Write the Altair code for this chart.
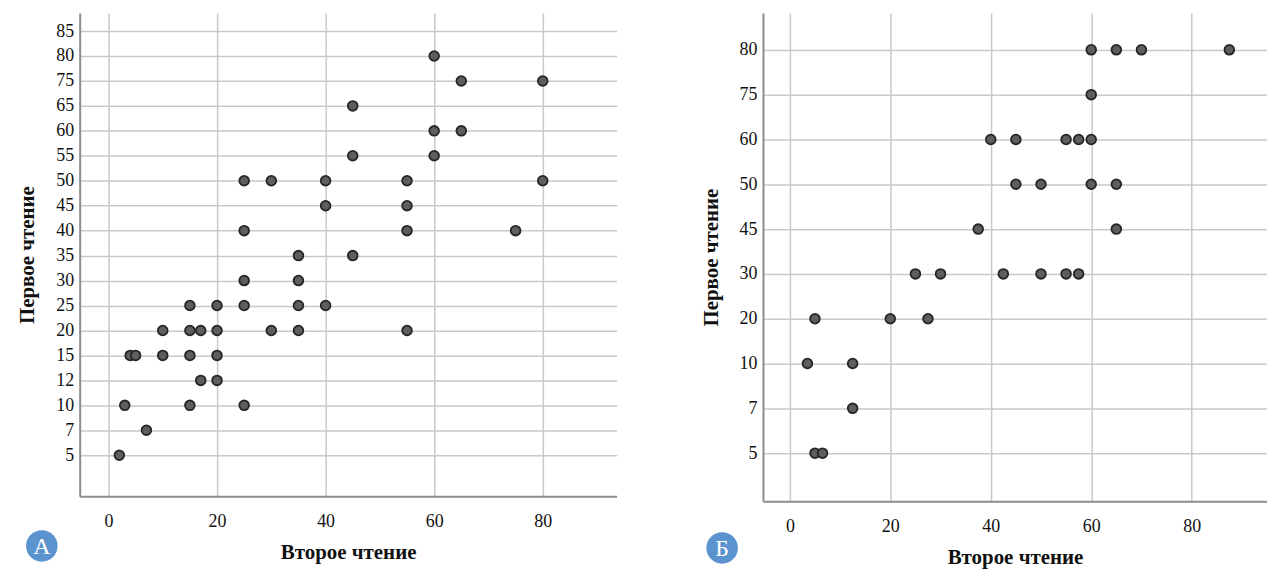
import altair as alt
import pandas as pd

# Panel A
a_levels = [5, 7, 10, 12, 15, 20, 25, 30, 35, 40, 45, 50, 55, 60, 65, 75, 80, 85]
a_first = [80, 75, 75, 65, 60, 60, 55, 55, 50, 50, 50, 50, 50, 45, 45, 40, 40, 40,
           35, 35, 30, 30, 25, 25, 25, 25, 25, 20, 20, 20, 20, 20, 20, 20,
           15, 15, 15, 15, 15, 12, 12, 10, 10, 10, 7, 5]
a_second = [60, 65, 80, 45, 60, 65, 45, 60, 25, 30, 40, 55, 80, 40, 55, 25, 55, 75,
            35, 45, 25, 35, 15, 20, 25, 35, 40, 10, 15, 17, 20, 30, 35, 55,
            4, 5, 10, 15, 20, 17, 20, 3, 15, 25, 7, 2]

# Panel B
b_levels = [5, 7, 10, 20, 30, 45, 50, 60, 75, 80]
b_first = [80, 80, 80, 80, 75, 60, 60, 60, 60, 60, 50, 50, 50, 50, 45, 45,
           30, 30, 30, 30, 30, 30, 20, 20, 20, 10, 10, 7, 5, 5]
b_second = [60, 65, 70, 87.5, 60, 40, 45, 55, 57.5, 60, 45, 50, 60, 65, 37.5, 65,
            25, 30, 42.5, 50, 55, 57.5, 5, 20, 27.5, 3.5, 12.5, 12.5, 5, 6.5]

x_ticks = [0, 20, 40, 60, 80]
x_title = "Второе чтение"
y_title = "Первое чтение"
badges = ["А", "Б"]

FONT = "Liberation Serif"


def panel(first, second, levels, xdom, ydom, w, h, badge, bx, by):
    df = pd.DataFrame({"first": first, "second": second})
    df["yi"] = [levels.index(v) for v in first]
    df["label"] = [str(v) for v in first]
    label_expr = "[" + ",".join(f"'{v}'" for v in levels) + "][datum.value]"
    x = alt.X("second:Q",
              scale=alt.Scale(domain=xdom, nice=False, zero=False),
              axis=alt.Axis(values=x_ticks, title=x_title, labelPadding=16,
                            titlePadding=12))
    y = alt.Y("yi:Q",
              scale=alt.Scale(domain=ydom, nice=False, zero=False),
              axis=alt.Axis(values=list(range(len(levels))), labelExpr=label_expr,
                            title=y_title, labelPadding=6, titlePadding=18))
    pts = alt.Chart(df).mark_circle(size=95, color="#5e5e5e", stroke="#262626",
                                    strokeWidth=1.8, opacity=1).encode(
        x=x, y=y, tooltip=["label:N", "second:Q"])
    bdf = pd.DataFrame({"t": [badge]})
    circ = alt.Chart(bdf).mark_circle(size=1000, color="#5b93cf", opacity=1,
                                      clip=False).encode(
        x=alt.value(bx), y=alt.value(by))
    txt = alt.Chart(bdf).mark_text(font=FONT, fontSize=24, color="white",
                                   clip=False, baseline="middle",
                                   align="center").encode(
        x=alt.value(bx), y=alt.value(by + 1), text="t:N")
    return alt.layer(pts, circ, txt).properties(width=w, height=h)


pa = panel(a_first, a_second, a_levels, [-5.3, 93.6], [-1.64, 17.72], 539, 485,
           badges[0], -38, 535)
pb = panel(b_first, b_second, b_levels, [-5.35, 95.0], [-1.07, 9.82], 506, 490,
           badges[1], -41, 537)

chart = alt.hconcat(pa, pb, spacing=84).properties(
    padding={"left": 17, "top": 12, "right": 0, "bottom": 0}
).configure_view(stroke=None).configure_axis(
    domainColor="#8c8c8c", domainWidth=2, gridColor="#c9c9c9", gridWidth=1.5,
    ticks=False, labelFont=FONT, labelFontSize=18, labelColor="#111111",
    titleFont=FONT, titleFontSize=21, titleFontWeight="bold", titleColor="#111111"
)

chart.save("out.html", embed_options={"renderer": "svg", "actions": False})
